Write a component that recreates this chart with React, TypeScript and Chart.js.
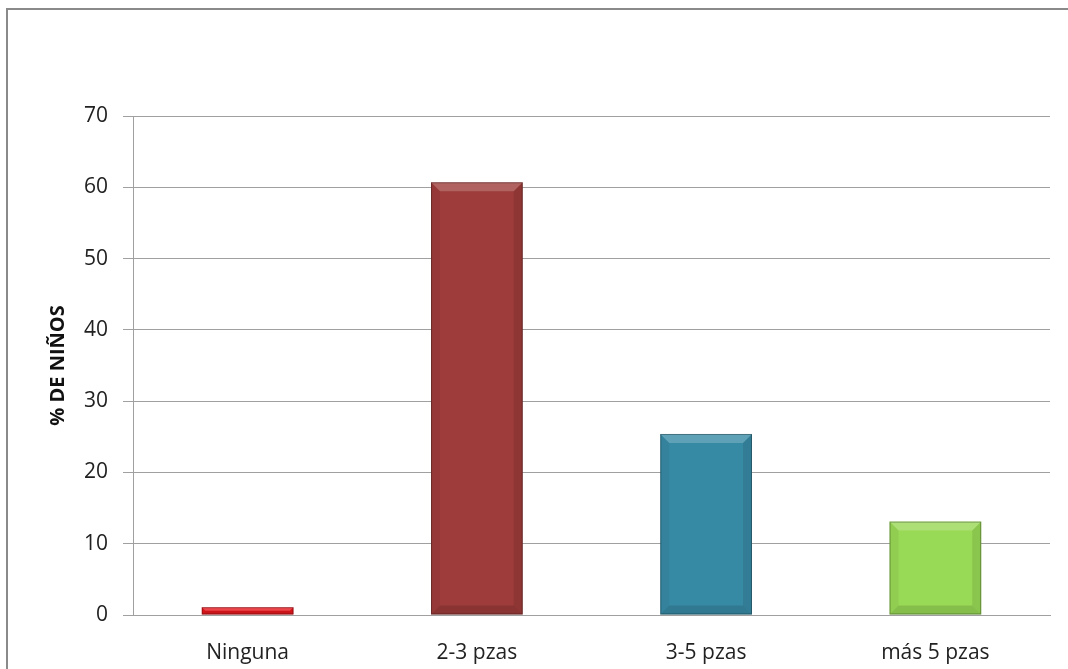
import React, { useEffect, useRef } from "react";
import { Chart, registerables } from "chart.js";

Chart.register(...registerables);

const categories = ["Ninguna", "2-3 pzas", "3-5 pzas", "más 5 pzas"];
const values = [1.1, 60.7, 25.4, 13.1];
const barColors = ["#e8171d", "#9d3c3a", "#378aa4", "#98d955"];
const yTicks = [0, 10, 20, 30, 40, 50, 60, 70];
const yTitle = "% DE NIÑOS";

const framePlugin = {
  id: "frame",
  beforeDraw(chart: any) {
    const ctx = chart.ctx;
    ctx.save();
    ctx.fillStyle = "#ffffff";
    ctx.fillRect(0, 0, chart.width, chart.height);
    ctx.fillStyle = "#8a8a8a";
    ctx.fillRect(6, 8, 2, chart.height - 8);
    ctx.fillRect(6, 8, chart.width - 6, 2);
    ctx.restore();
  },
};

const bevelPlugin = {
  id: "bevel",
  afterDatasetsDraw(chart: any) {
    const ctx = chart.ctx;
    const meta = chart.getDatasetMeta(0);
    meta.data.forEach((bar: any) => {
      const { x, y, base, width } = bar.getProps(["x", "y", "base", "width"], true);
      const l = x - width / 2;
      const r = x + width / 2;
      const t = Math.min(y, base);
      const b = Math.max(y, base);
      const bv = Math.min(9, (b - t) / 2);
      ctx.save();
      ctx.fillStyle = "rgba(255,255,255,0.2)";
      ctx.beginPath();
      ctx.moveTo(l, t);
      ctx.lineTo(r, t);
      ctx.lineTo(r - bv, t + bv);
      ctx.lineTo(l + bv, t + bv);
      ctx.closePath();
      ctx.fill();
      ctx.fillStyle = "rgba(0,0,0,0.05)";
      ctx.beginPath();
      ctx.moveTo(l, t);
      ctx.lineTo(l + bv, t + bv);
      ctx.lineTo(l + bv, b - bv);
      ctx.lineTo(l, b);
      ctx.closePath();
      ctx.fill();
      ctx.fillStyle = "rgba(0,0,0,0.09)";
      ctx.beginPath();
      ctx.moveTo(r, t);
      ctx.lineTo(r - bv, t + bv);
      ctx.lineTo(r - bv, b - bv);
      ctx.lineTo(r, b);
      ctx.closePath();
      ctx.fill();
      ctx.fillStyle = "rgba(0,0,0,0.12)";
      ctx.beginPath();
      ctx.moveTo(l, b);
      ctx.lineTo(l + bv, b - bv);
      ctx.lineTo(r - bv, b - bv);
      ctx.lineTo(r, b);
      ctx.closePath();
      ctx.fill();
      ctx.strokeStyle = "rgba(0,0,0,0.3)";
      ctx.lineWidth = 1;
      ctx.strokeRect(l + 0.5, t + 0.5, width - 1, b - t - 1);
      ctx.restore();
    });
  },
};

export default function App() {
  const ref = useRef<HTMLCanvasElement | null>(null);

  useEffect(() => {
    if (!ref.current) return;
    const chart = new Chart(ref.current, {
      type: "bar",
      data: {
        labels: categories,
        datasets: [
          {
            data: values,
            backgroundColor: barColors,
            borderWidth: 0,
            barPercentage: 0.4,
            categoryPercentage: 1,
          },
        ],
      },
      options: {
        animation: false,
        responsive: true,
        maintainAspectRatio: false,
        layout: { padding: { left: 0, top: 116, right: 18, bottom: 0 } },
        plugins: {
          legend: { display: false },
          tooltip: { enabled: false },
        },
        scales: {
          x: {
            grid: { display: false },
            border: { display: true, color: "#a0a0a0", width: 1 },
            ticks: {
              color: "#222",
              padding: 17,
              font: { family: "'Open Sans', sans-serif", size: 21 },
            },
            afterFit: (s: any) => {
              s.height = 669 - 615;
            },
          },
          y: {
            min: 0,
            max: 70,
            afterBuildTicks: (s: any) => {
              s.ticks = yTicks.map((v) => ({ value: v }));
            },
            grid: { color: "#a0a0a0", lineWidth: 1, tickLength: 10 },
            border: { display: true, color: "#a0a0a0", width: 1 },
            ticks: {
              color: "#222",
              padding: 15,
              font: { family: "'Open Sans', sans-serif", size: 21 },
            },
            title: {
              display: true,
              text: yTitle,
              color: "#111",
              font: { family: "'Open Sans', sans-serif", size: 20, weight: "bold" },
              padding: { top: 46, bottom: 0 },
            },
            afterFit: (s: any) => {
              s.width = 133;
            },
          },
        },
      },
      plugins: [framePlugin, bevelPlugin],
    });
    return () => chart.destroy();
  }, []);

  return (
    <div style={{ position: "fixed", left: 0, top: 0, width: 1068, height: 669 }}>
      <canvas ref={ref} />
    </div>
  );
}
